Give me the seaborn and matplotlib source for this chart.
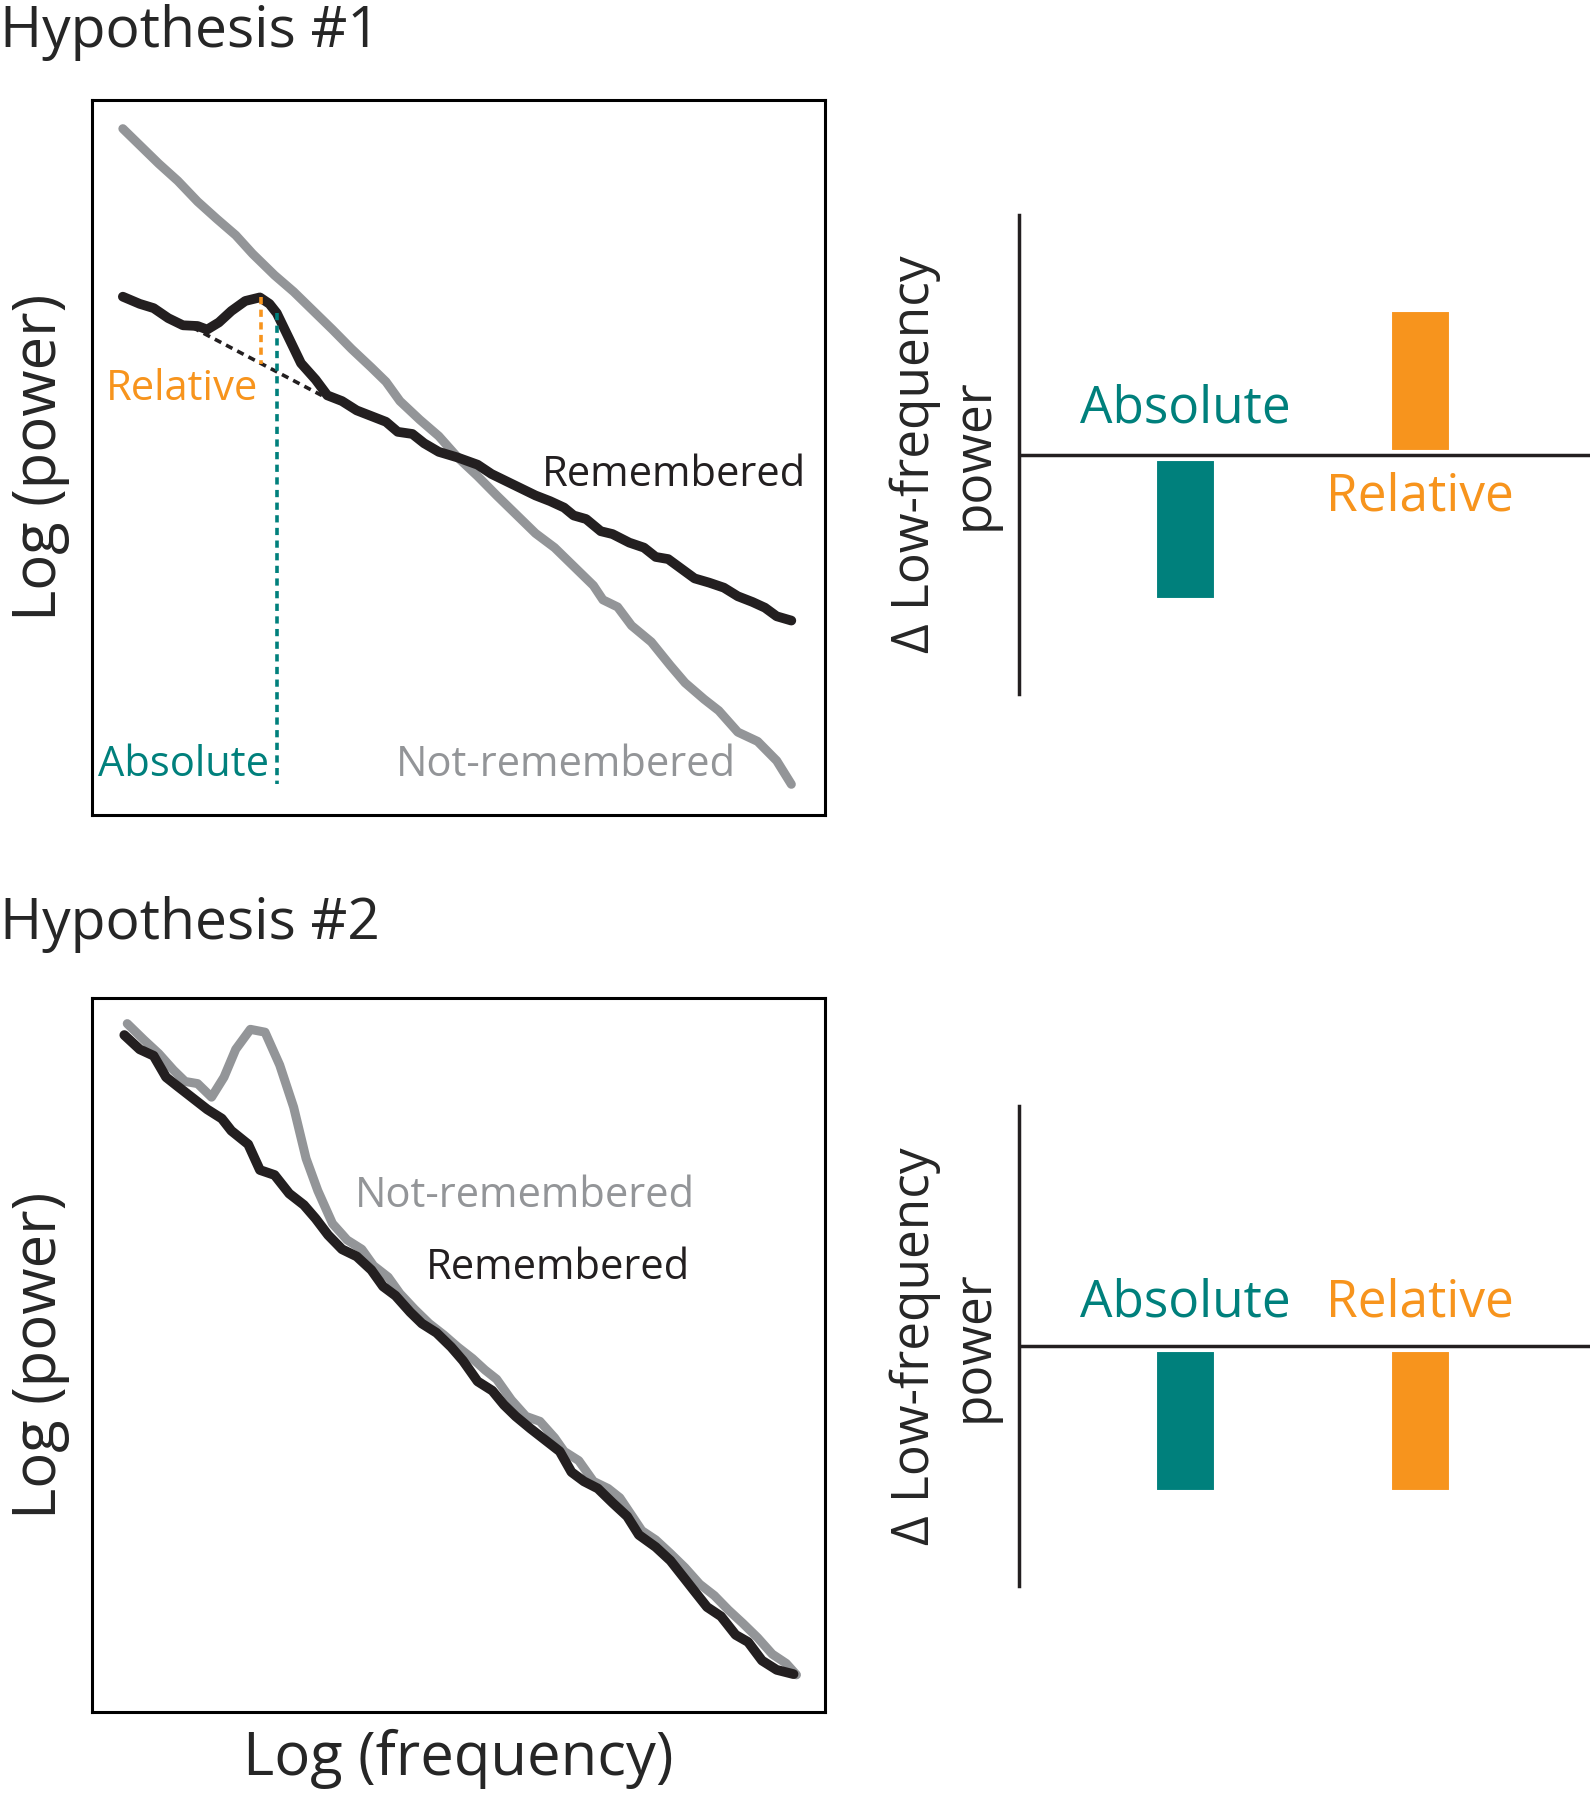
import numpy as np
import pandas as pd
import seaborn as sns
import matplotlib
matplotlib.use("Agg")
import matplotlib.pyplot as plt

sns.set_style("white")
plt.rcParams['font.family'] = ['Open Sans', 'DejaVu Sans']

TEAL = "#00807c"
ORANGE = "#f7941d"
GRAY = "#939598"
BLACK = "#231f20"

# ---- Hypothesis 1 spectra (log frequency vs log power, arbitrary units 0-100)
h1_notrem_x = [4.2, 6.5, 9.1, 11.7, 14.4, 17.0, 19.6, 21.9, 24.9, 27.5, 30.2, 32.8, 35.4,
               38.1, 40.1, 42.0, 44.7, 47.3, 49.9, 52.6, 55.2, 57.8, 60.5, 63.1, 65.7, 68.4,
               69.7, 71.7, 73.6, 76.3, 78.9, 80.9, 83.5, 85.5, 88.1, 90.8, 93.4, 95.4]
h1_notrem_y = [96.0, 93.7, 91.1, 88.7, 85.8, 83.4, 81.1, 78.5, 75.5, 73.2, 70.5, 67.9, 65.2,
               62.6, 60.6, 57.9, 55.3, 53.0, 50.0, 47.4, 44.7, 42.1, 39.4, 37.4, 34.8, 32.1,
               30.1, 29.1, 26.5, 24.2, 20.9, 18.5, 16.2, 14.6, 11.6, 10.3, 7.6, 4.3]
h1_rem_x = [4.2, 6.5, 8.4, 10.4, 12.4, 14.4, 15.7, 17.3, 19.0, 20.9, 22.9, 24.2, 25.2, 26.9,
            28.5, 30.5, 32.1, 34.1, 36.1, 38.1, 40.1, 41.7, 43.7, 45.3, 47.3, 49.9, 52.6,
            54.5, 56.5, 58.5, 60.5, 62.5, 64.4, 65.7, 67.4, 69.4, 71.0, 73.3, 75.3, 76.9,
            78.6, 80.2, 82.2, 84.2, 86.2, 88.1, 90.1, 91.8, 93.4, 95.4]
h1_rem_y = [72.5, 71.5, 70.9, 69.5, 68.5, 68.4, 67.9, 68.9, 70.5, 71.9, 72.4, 71.5, 70.2,
            66.6, 63.2, 60.9, 58.7, 57.9, 56.6, 55.8, 55.0, 53.6, 53.3, 52.0, 50.8, 50.0,
            49.0, 47.7, 46.7, 45.7, 44.7, 43.9, 43.0, 41.9, 41.4, 39.7, 39.3, 38.1, 37.4,
            36.1, 35.8, 34.6, 33.1, 32.5, 31.8, 30.6, 29.8, 29.0, 27.8, 27.2]
h1_fit_x = [13.7, 31.5]
h1_fit_y = [68.2, 58.6]
peak_rel_x = [23.1, 23.1]
peak_rel_y = [72.5, 63.1]
peak_abs_x = [25.2, 25.2]
peak_abs_y = [70.2, 4.3]

# ---- Hypothesis 2 spectra
h2_notrem_x = [4.8, 7.1, 9.1, 11.1, 12.7, 14.4, 16.3, 18.0, 19.6, 21.6, 23.6, 25.6, 27.5,
               29.2, 30.8, 32.8, 34.8, 36.8, 38.4, 40.4, 42.0, 44.0, 46.0, 48.0, 49.9, 51.9,
               53.6, 55.2, 57.2, 59.2, 61.1, 63.1, 64.4, 66.4, 68.4, 70.4, 72.0, 73.7, 75.0,
               76.9, 78.9, 80.9, 82.9, 84.9, 86.8, 88.8, 90.8, 92.8, 94.7, 96.1]
h2_notrem_y = [96.4, 94.1, 92.2, 89.9, 88.3, 88.0, 86.1, 88.9, 92.8, 95.6, 95.2, 90.6, 84.7,
               77.5, 73.0, 68.4, 66.1, 64.8, 62.5, 60.9, 58.6, 56.4, 54.4, 52.8, 51.1, 49.5,
               47.9, 46.6, 43.7, 41.4, 40.7, 38.4, 36.5, 35.2, 32.3, 31.3, 30.0, 27.4, 25.4,
               24.1, 22.2, 20.2, 17.9, 16.3, 14.3, 12.4, 10.4, 8.1, 6.8, 5.2]
h2_rem_x = [4.4, 6.5, 8.4, 10.1, 11.7, 13.7, 15.7, 17.7, 19.0, 21.3, 22.9, 24.9, 26.9, 28.9,
            30.5, 32.2, 34.1, 36.1, 38.1, 39.7, 41.4, 43.4, 45.0, 47.0, 49.0, 50.6, 52.6,
            54.6, 56.2, 57.8, 59.8, 61.8, 63.8, 65.4, 67.1, 69.0, 71.0, 73.0, 74.6, 76.9,
            78.9, 80.9, 82.2, 83.9, 85.8, 87.8, 89.5, 91.4, 93.4, 95.7]
h2_rem_y = [94.8, 92.8, 91.9, 88.9, 87.6, 86.0, 84.4, 83.1, 81.4, 79.5, 75.9, 75.2, 72.6,
            71.0, 69.1, 66.8, 64.8, 63.8, 61.9, 59.6, 58.3, 56.0, 54.4, 53.1, 51.1, 49.2,
            46.3, 45.0, 43.0, 41.4, 39.7, 38.1, 36.5, 33.6, 32.3, 31.3, 29.3, 27.4, 24.8,
            23.1, 21.2, 18.6, 16.9, 14.7, 13.4, 10.8, 9.8, 7.2, 5.9, 5.3]

# ---- change in low-frequency power (arbitrary units)
measures = ["Absolute", "Relative"]
h1_delta = [-0.62, 0.62]
h2_delta = [-0.62, -0.62]

fig = plt.figure(figsize=(15.9, 18), dpi=100)

label_fs = 43
note_fs = 30
bar_fs = 37
W = 500


def spectrum_panel(rect, curves):
    ax = fig.add_axes(rect)
    for xs, ys, col, lw in curves:
        sns.lineplot(x=xs, y=ys, color=col, lw=lw, estimator=None, sort=False, ax=ax)
    ax.set_xlim(0, 100)
    ax.set_ylim(0, 100)
    ax.set_xticks([])
    ax.set_yticks([])
    for s in ax.spines.values():
        s.set_visible(True)
        s.set_linewidth(2.2)
        s.set_color("black")
    ax.set_ylabel("Log (power)", fontsize=label_fs, labelpad=16, fontweight=W)
    return ax


def delta_panel(rect, vals, abs_y, rel_y):
    ax = fig.add_axes(rect)
    df = pd.DataFrame({"measure": measures, "delta": vals})
    sns.barplot(data=df, x="measure", y="delta", hue="measure", palette=[TEAL, ORANGE],
                saturation=1, width=0.29, edgecolor="white", linewidth=8, legend=False, ax=ax)
    ax.axhline(0, color=BLACK, lw=2.5, zorder=5)
    ax.set_xlim(-0.706, 1.723)
    ax.set_ylim(-1, 1)
    ax.set_xticks([])
    ax.set_yticks([])
    ax.set_xlabel("")
    sns.despine(ax=ax, top=True, right=True, bottom=True)
    ax.spines["left"].set_linewidth(2.5)
    ax.spines["left"].set_color(BLACK)
    ax.set_ylabel("Δ Low-frequency\npower", fontsize=37, labelpad=14, fontweight=W)
    ax.text(0, abs_y, "Absolute", color=TEAL, fontsize=bar_fs, ha="center", va="center",
            fontweight=W)
    ax.text(1, rel_y, "Relative", color=ORANGE, fontsize=bar_fs, ha="center", va="center",
            fontweight=W)
    ax.patch.set_alpha(0)
    return ax


# Hypothesis 1
ax1 = spectrum_panel([0.0579, 0.5472, 0.461, 0.3972],
                     [(h1_notrem_x, h1_notrem_y, GRAY, 6.5),
                      (h1_rem_x, h1_rem_y, BLACK, 7.0)])
ax1.plot(h1_fit_x, h1_fit_y, color=BLACK, lw=2.6, ls=(0, (2.0, 1.5)))
ax1.plot(peak_rel_x, peak_rel_y, color=ORANGE, lw=2.6, ls=(0, (2.0, 1.5)))
ax1.plot(peak_abs_x, peak_abs_y, color=TEAL, lw=2.6, ls=(0, (2.0, 1.5)))
ax1.text(22.6, 59.6, "Relative", color=ORANGE, fontsize=note_fs, ha="right", va="center",
         fontweight=W)
ax1.text(24.2, 7.0, "Absolute", color=TEAL, fontsize=note_fs, ha="right", va="center",
         fontweight=W)
ax1.text(97.4, 47.5, "Remembered", color=BLACK, fontsize=note_fs, ha="right", va="center",
         fontweight=W)
ax1.text(87.8, 7.0, "Not-remembered", color=GRAY, fontsize=note_fs, ha="right", va="center",
         fontweight=W)

delta_panel([0.6409, 0.6144, 0.3591, 0.2661], h1_delta, 0.19, -0.175)

# Hypothesis 2
ax2 = spectrum_panel([0.0579, 0.0489, 0.461, 0.3967],
                     [(h2_notrem_x, h2_notrem_y, GRAY, 6.5),
                      (h2_rem_x, h2_rem_y, BLACK, 7.0)])
ax2.text(82.2, 72.3, "Not-remembered", color=GRAY, fontsize=note_fs, ha="right", va="center",
         fontweight=W)
ax2.text(81.6, 62.2, "Remembered", color=BLACK, fontsize=note_fs, ha="right", va="center",
         fontweight=W)
ax2.set_xlabel("Log (frequency)", fontsize=label_fs, labelpad=12, fontweight=W)

delta_panel([0.6409, 0.1189, 0.3591, 0.2667], h2_delta, 0.18, 0.18)

fig.text(0.0, 0.998, "Hypothesis #1", fontsize=41, ha="left", va="top", fontweight=W)
fig.text(0.0, 0.502, "Hypothesis #2", fontsize=41, ha="left", va="top", fontweight=W)

fig.savefig("out.png", dpi=100, facecolor="white")
